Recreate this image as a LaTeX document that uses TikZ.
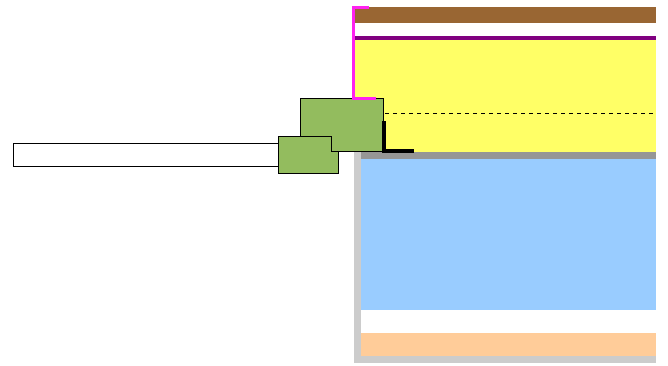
\documentclass[tikz,border=0pt]{standalone}
\definecolor{brownc}{HTML}{996633}
\definecolor{purplec}{HTML}{800080}
\definecolor{yellowc}{HTML}{FFFF66}
\definecolor{darkg}{HTML}{969696}
\definecolor{lightg}{HTML}{CCCCCC}
\definecolor{bluec}{HTML}{99CCFF}
\definecolor{peachc}{HTML}{FFCC99}
\definecolor{greenc}{HTML}{93BC5E}
\definecolor{magc}{HTML}{FF22F0}
\tikzset{
  band/.style={draw=none},
  greenbox/.style={fill=greenc,draw=black,line width=1bp,line join=miter},
  magline/.style={draw=magc,line width=3bp},
  blackline/.style={draw=black,line width=3.6bp},
}
\begin{document}
\begin{tikzpicture}[x=1bp,y=-1bp]
\useasboundingbox (0,0) rectangle (668,365);
\fill[white] (0,0) rectangle (668,365);
% layers
\fill[band,brownc] (355,7) rectangle (656,23);
\fill[band,purplec] (355,36) rectangle (656,39.5);
\fill[band,yellowc] (355,39.5) rectangle (656,151.5);
\fill[band,lightg] (353.5,151.5) rectangle (361.2,363);
\fill[band,lightg] (353.5,355.5) rectangle (656,363);
\fill[band,darkg] (361.2,151.5) rectangle (656,158.5);
\fill[band,bluec] (361.2,158.5) rectangle (656,310);
\fill[band,peachc] (361.2,333) rectangle (656,355.5);
% dashed line
\draw[black,line width=0.7bp,dash pattern=on 4bp off 4bp] (385,113) -- (656,113);
% white board
\draw[fill=white,draw=black,line width=1bp] (13.5,143.5) rectangle (278,166);
% green blocks
\draw[greenbox] (300.5,136) -- (300.5,98.3) -- (383.7,98.3) -- (383.7,151) -- (331,151) -- (331,136);
\fill[greenc] (300.5,136) rectangle (331,151);
\draw[greenbox] (331,151) -- (338.5,151) -- (338.5,173.5) -- (278,173.5) -- (278,136) -- (331,136) -- (331,151);
% magenta flashing
\draw[magline] (369,7) -- (353.7,7) -- (353.7,98) -- (376,98);
% black angle
\draw[blackline] (383.7,121) -- (383.7,151) -- (414,151);
\end{tikzpicture}
\end{document}
